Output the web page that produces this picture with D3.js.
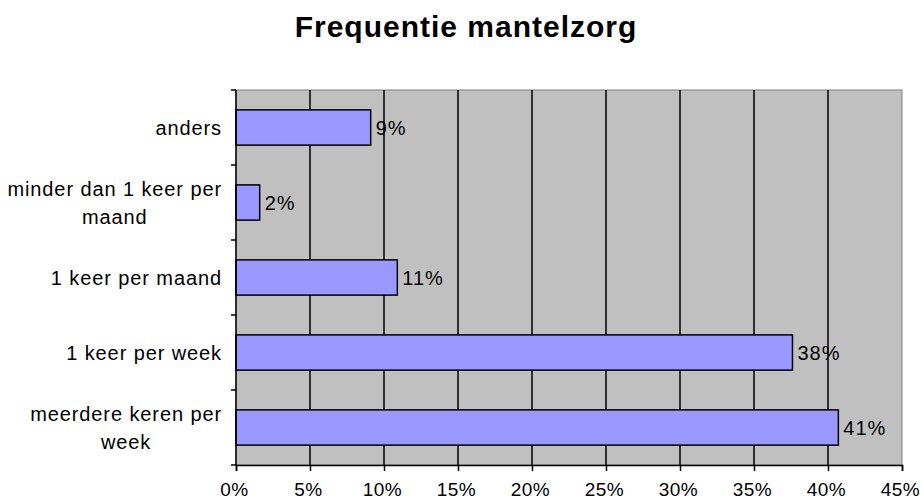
<!DOCTYPE html>
<html><head><meta charset="utf-8">
<script src="https://cdn.jsdelivr.net/npm/d3@7"></script>
<style>body{margin:0;background:#fff}svg{display:block}text{font-family:"Liberation Sans",Arial,sans-serif}</style>
</head><body>
<svg id="c" width="923" height="504"></svg>
<script>
const title = "Frequentie mantelzorg";
const categories = ["anders", "minder dan 1 keer per maand", "1 keer per maand", "1 keer per week", "meerdere keren per week"];
const labelLines = [["anders"], ["minder dan 1 keer per", "maand"], ["1 keer per maand"], ["1 keer per week"], ["meerdere keren per", "week"]];
const values = [9.1, 1.6, 10.9, 37.6, 40.7];
const valueLabels = ["9%", "2%", "11%", "38%", "41%"];
const xTicks = [0, 5, 10, 15, 20, 25, 30, 35, 40, 45];

const svg = d3.select("#c");
const m = {left: 236, right: 902, top: 90, bottom: 465};
const x = d3.scaleLinear().domain([0, 45]).range([m.left, m.right]);
const y = d3.scaleBand().domain(categories).range([m.top, m.bottom]).paddingInner(0.53).paddingOuter(0.265);

svg.append("text").attr("x", 466).attr("y", 37).attr("text-anchor", "middle")
  .style("font-size", "30px").style("font-weight", "bold").style("letter-spacing", "1px").text(title);

svg.append("rect").attr("x", m.left).attr("y", m.top).attr("width", m.right - m.left).attr("height", m.bottom - m.top)
  .attr("fill", "#c0c0c0").attr("stroke", "#808080").attr("stroke-width", 1);

svg.append("g").selectAll("line").data(xTicks.filter(d => d > 0 && d < 45)).join("line")
  .attr("x1", d => x(d)).attr("x2", d => x(d)).attr("y1", m.top).attr("y2", m.bottom)
  .attr("stroke", "#000").attr("stroke-width", 1.5);

svg.append("g").selectAll("rect").data(values).join("rect")
  .attr("x", x(0)).attr("y", (d, i) => y(categories[i]))
  .attr("width", d => x(d) - x(0)).attr("height", y.bandwidth())
  .attr("fill", "#9999ff").attr("stroke", "#000").attr("stroke-width", 1.5);

svg.append("g").selectAll("text").data(values).join("text")
  .attr("x", d => x(d) + 5).attr("y", (d, i) => y(categories[i]) + y.bandwidth() / 2 + 7)
  .style("font-size", "20px").style("letter-spacing", "1px").attr("fill", "#000").text((d, i) => valueLabels[i]);

// x axis
const xAxis = d3.axisBottom(x).tickValues(xTicks).tickFormat(d => d + "%").tickSize(6).tickPadding(12);
const gx = svg.append("g").attr("transform", `translate(0,${m.bottom})`).call(xAxis);
gx.select(".domain").attr("stroke", "#000").attr("stroke-width", 1.5);
gx.selectAll(".tick line").attr("stroke", "#000").attr("stroke-width", 1.5);
gx.selectAll(".tick text").style("font-size", "19px").style("letter-spacing", "0.5px").style("font-family", '"Liberation Sans",Arial,sans-serif').attr("fill", "#000").attr("dx", "-2");

// y axis line and ticks at band boundaries
const bounds = d3.range(categories.length + 1).map(i => m.top + i * (m.bottom - m.top) / categories.length);
svg.append("line").attr("x1", m.left).attr("x2", m.left).attr("y1", m.top).attr("y2", m.bottom).attr("stroke", "#000").attr("stroke-width", 1.5);
svg.append("g").selectAll("line").data(bounds).join("line")
  .attr("x1", m.left - 5).attr("x2", m.left).attr("y1", d => d).attr("y2", d => d)
  .attr("stroke", "#000").attr("stroke-width", 1.5);

// category labels
const lh = 28;
const lg = svg.append("g");
labelLines.forEach((lines, i) => {
  const cy = y(categories[i]) + y.bandwidth() / 2;
  const t = lg.append("text").style("font-size", "20px").style("letter-spacing", "0.9px").attr("fill", "#000");
  const spans = lines.map((l, j) => t.append("tspan").attr("y", cy + 7 + (j - (lines.length - 1) / 2) * lh).text(l));
  const widths = spans.map(s => s.node().getComputedTextLength());
  const maxW = d3.max(widths);
  const right = 222;
  spans.forEach((s, j) => s.attr("x", right - maxW / 2).attr("text-anchor", "middle"));
});
</script>
</body></html>
